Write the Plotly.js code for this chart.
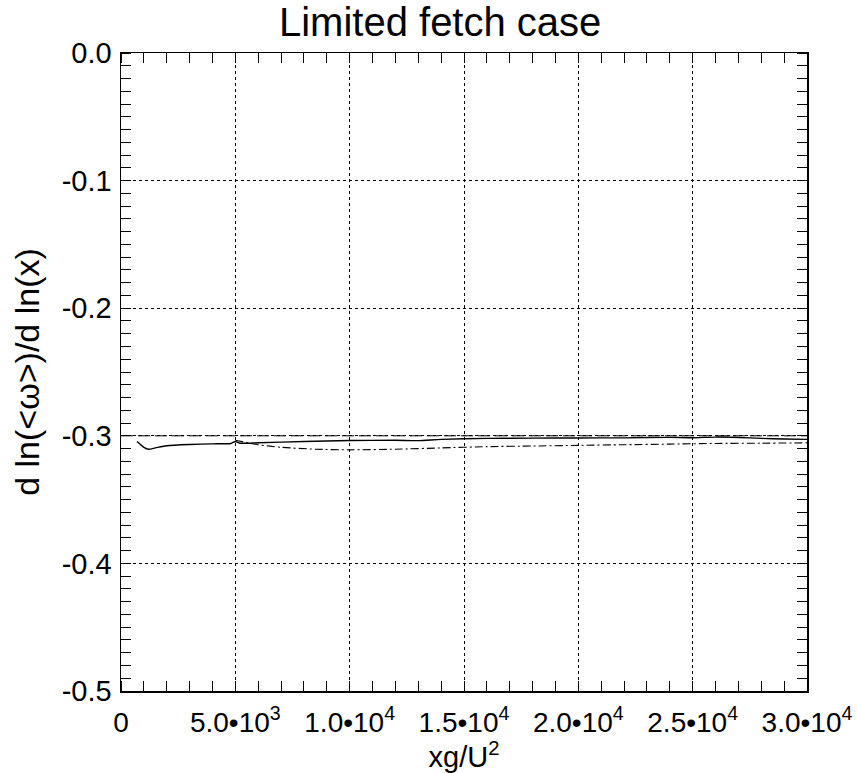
<!DOCTYPE html>
<html>
<head>
<meta charset="utf-8">
<script src="https://cdn.plot.ly/plotly-3.0.1.min.js"></script>
<style>html,body{margin:0;padding:0;background:#fff;}#chart{width:858px;height:773px;}</style>
</head>
<body>
<div id="chart"></div>
<script>
// Reference line (theoretical slope -0.3)
const refX = [0, 30000];
const refY = [-0.3, -0.3];

// Solid curve
const solidX = [700, 1000, 1200, 1500, 2000, 3000, 4000, 4800, 5000, 5200, 6000, 8000, 10000, 12000, 13000, 14000, 16000, 18000, 20000, 22000, 24000, 25000, 26000, 27000, 28000, 29000, 30000];
const solidY = [-0.3045, -0.309, -0.3105, -0.3095, -0.3078, -0.3068, -0.3063, -0.306, -0.3045, -0.3058, -0.3055, -0.3045, -0.3037, -0.3035, -0.3038, -0.3028, -0.302, -0.3018, -0.3017, -0.3016, -0.3012, -0.3015, -0.301, -0.3013, -0.302, -0.3025, -0.3028];

// Dash-dot curve
const dashdotX = [5000, 6000, 7000, 8500, 10000, 12000, 14000, 16000, 18000, 20000, 22000, 24000, 26000, 28000, 30000];
const dashdotY = [-0.3035, -0.307, -0.309, -0.3105, -0.311, -0.3105, -0.3095, -0.3085, -0.308, -0.3075, -0.307, -0.3065, -0.306, -0.3058, -0.3055];

// Tick labels
const xTickVals = [0, 5000, 10000, 15000, 20000, 25000, 30000];
const xTickText = ['0', '5.0•10<sup>3</sup>', '1.0•10<sup>4</sup>', '1.5•10<sup>4</sup>', '2.0•10<sup>4</sup>', '2.5•10<sup>4</sup>', '3.0•10<sup>4</sup>'];
const yTickVals = [0, -0.1, -0.2, -0.3, -0.4, -0.5];
const yTickText = ['0.0', '-0.1', '-0.2', '-0.3', '-0.4', '-0.5'];

const FONT = 'Liberation Sans, Arial, Helvetica, sans-serif';

const traces = [
  {x: refX, y: refY, mode: 'lines', line: {color: '#000', width: 1, dash: '12px,5px'}, hoverinfo: 'skip'},
  {x: solidX, y: solidY, mode: 'lines', line: {color: '#000', width: 1.4, shape: 'spline', smoothing: 0.6}},
  {x: dashdotX, y: dashdotY, mode: 'lines', line: {color: '#000', width: 1.1, dash: '8px,3px,2px,3px', shape: 'spline', smoothing: 0.6}}
];

const axisCommon = {
  showline: true, linecolor: '#000', linewidth: 1.5, mirror: 'allticks',
  ticks: '', zeroline: false,
  showgrid: true, gridcolor: '#000', gridwidth: 1, griddash: '3px,3px',
  tickfont: {family: FONT, size: 29, color: '#000'},
  minor: {ticks: 'inside', ticklen: 10, tickcolor: '#000', tickwidth: 1, showgrid: false}
};

const layout = {
  width: 858, height: 773,
  margin: {l: 121, r: 51, t: 53, b: 82},
  paper_bgcolor: '#fff', plot_bgcolor: '#fff',
  showlegend: false,
  title: {text: 'Limited fetch case', font: {family: FONT, size: 40, color: '#000'}, x: 0.513, xanchor: 'center', yref: 'container', y: 0.971, yanchor: 'middle'},
  xaxis: Object.assign({}, axisCommon, {
    range: [0, 30000], tickmode: 'array', tickvals: xTickVals, ticktext: xTickText,
    tickfont: {family: FONT, size: 28, color: '#000'},
    ticklabelstandoff: 6,
    minor: Object.assign({}, axisCommon.minor, {dtick: 1000}),
    title: {text: 'xg/U<sup>2</sup>', font: {family: FONT, size: 29, color: '#000'}, standoff: 3}
  }),
  yaxis: Object.assign({}, axisCommon, {
    range: [-0.5, 0], tickmode: 'array', tickvals: yTickVals, ticktext: yTickText,
    ticklabelstandoff: 2,
    minor: Object.assign({}, axisCommon.minor, {dtick: 0.01}),
    title: {text: 'd ln(&lt;ω&gt;)/d ln(x)', font: {family: FONT, size: 34, color: '#000'}, standoff: 12}
  })
};

Plotly.newPlot('chart', traces, layout, {displayModeBar: false, staticPlot: true});
</script>
</body>
</html>
